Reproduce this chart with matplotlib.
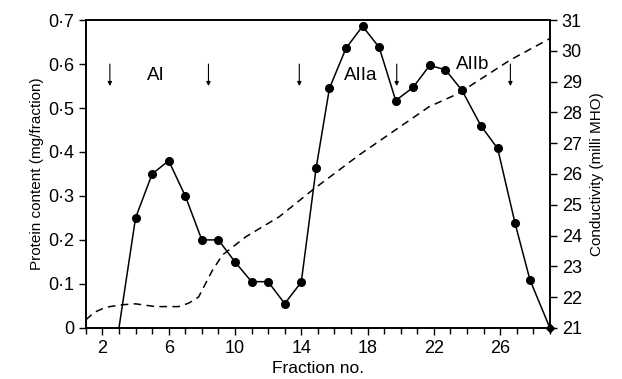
import matplotlib
matplotlib.use('Agg')
import matplotlib.pyplot as plt
from matplotlib.ticker import FixedLocator, MultipleLocator

plt.rcParams['font.family'] = ['Liberation Sans', 'DejaVu Sans']

# protein elution profile (solid line)
fraction = [3, 4, 5, 6, 7, 8, 9, 10, 11, 12, 13, 14, 14.9, 15.7, 16.7, 17.7,
            18.7, 19.7, 20.75, 21.75, 22.7, 23.7, 24.85, 25.85, 26.9, 27.8, 29]
protein = [0, 0.25, 0.35, 0.38, 0.30, 0.20, 0.20, 0.15, 0.105, 0.105, 0.055,
           0.104, 0.364, 0.545, 0.636, 0.686, 0.638, 0.517, 0.547, 0.597,
           0.587, 0.54, 0.459, 0.408, 0.238, 0.109, 0]

# conductivity gradient (dashed line)
cond_x = [1, 1.5, 2.2, 3.2, 4, 5.2, 6.6, 7.2, 7.8, 8.65, 9.25, 10.66, 12.67,
          14.68, 17.5, 21.7, 23.5, 26.6, 29]
cond = [21.26, 21.5, 21.67, 21.75, 21.78, 21.69, 21.69, 21.8, 22.0, 22.88,
        23.37, 23.96, 24.61, 25.48, 26.62, 28.18, 28.62, 29.7, 30.4]

# pooled fraction boundaries and peak names
arrow_x = [2.45, 8.4, 13.88, 19.76, 26.62]
peak_names = ['AI', 'AIIa', 'AIIb']
peak_x = [5.25, 17.6, 24.35]
peak_y = [0.573, 0.575, 0.60]

fig = plt.figure(figsize=(6.22, 3.79), dpi=100)
ax = fig.add_axes([0.138, 0.135, 0.746, 0.812])
ax2 = ax.twinx()

ax.plot(fraction, protein, color='black', lw=1.1, zorder=3)
ax.plot(fraction[1:-1], protein[1:-1], 'o', color='black', ms=5.5, zorder=4)
ax.plot(fraction[-1], protein[-1], 'D', color='black', ms=4.5, clip_on=False, zorder=5)
ax2.plot(cond_x, cond, color='black', lw=1.1, dashes=(5, 3.5))

for xa in arrow_x:
    ax.annotate('', xy=(xa, 0.55), xytext=(xa, 0.60),
                arrowprops=dict(arrowstyle='-|>', color='black', lw=0.8,
                                mutation_scale=6, shrinkA=0, shrinkB=0))
for name, xp, yp in zip(peak_names, peak_x, peak_y):
    ax.text(xp, yp, name, ha='center', va='center', fontsize=13.5)

ax.set_xlim(1, 29)
ax.set_ylim(0, 0.7)
ax2.set_ylim(21, 31)

ax.xaxis.set_major_locator(FixedLocator([2, 6, 10, 14, 18, 22, 26]))
ax.xaxis.set_minor_locator(MultipleLocator(1))
ax.set_yticks([0, 0.1, 0.2, 0.3, 0.4, 0.5, 0.6, 0.7])
ax.set_yticklabels(['0', '0·1', '0·2', '0·3', '0·4', '0·5', '0·6', '0·7'])
ax2.set_yticks(range(21, 32))

ax.tick_params(axis='both', which='major', labelsize=13, length=5, width=1, direction='out')
ax.tick_params(axis='x', which='minor', length=4, width=1, direction='out')
ax2.tick_params(axis='y', labelsize=13, length=5, width=1, direction='out')

for a in (ax, ax2):
    for s in a.spines.values():
        s.set_linewidth(1.2)

ax.set_xlabel('Fraction no.', fontsize=12.5, labelpad=3)
ax.set_ylabel('Protein content (mg/fraction)', fontsize=11, labelpad=3)
ax2.set_ylabel('Conductivity (milli MHO)', fontsize=11, labelpad=6)

fig.savefig('out.png', dpi=100)
